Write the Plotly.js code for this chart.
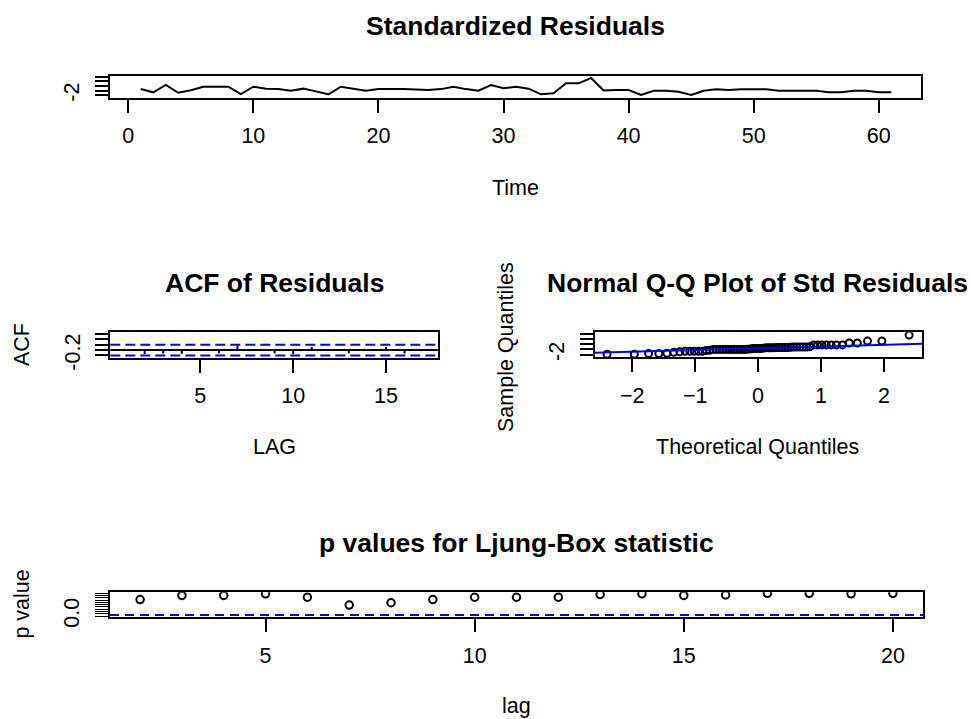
<!DOCTYPE html>
<html>
<head>
<meta charset="utf-8">
<script src="https://cdn.plot.ly/plotly-3.0.1.min.js"></script>
<style>
html,body{margin:0;padding:0;background:#ffffff;}
#chart{width:971px;height:719px;}
</style>
</head>
<body>
<div id="chart"></div>
<script>
// ---------------- DATA ----------------
const timeIdx = [1,2,3,4,5,6,7,8,9,10,11,12,13,14,15,16,17,18,19,20,
                 21,22,23,24,25,26,27,28,29,30,31,32,33,34,35,36,37,38,39,40,
                 41,42,43,44,45,46,47,48,49,50,51,52,53,54,55,56,57,58,59,60,61];
const stdRes = [-0.62,-1.34,0.24,-1.44,-0.90,-0.13,-0.13,-0.13,-1.72,-0.13,
                -0.55,-0.62,-0.99,-0.55,-1.14,-1.77,-0.13,-0.55,-0.99,-0.65,
                -0.55,-0.60,-0.75,-0.84,-0.65,-0.13,-0.65,-0.99,0.24,-0.47,
                -0.13,-0.55,-1.77,-1.55,0.60,0.60,1.75,-0.95,-0.84,-0.84,
                -1.92,-0.99,-0.99,-1.21,-1.92,-0.99,-0.69,-0.84,-0.69,-0.69,
                -0.69,-0.99,-0.99,-0.99,-0.99,-1.34,-1.34,-0.99,-0.99,-1.34,-1.34];

const acfLag = [1,2,3,4,5,6,7,8,9,10,11,12,13,14,15,16,17];
const acfVal = [0.01,-0.15,-0.13,-0.14,0.02,-0.12,0.18,0.01,-0.13,-0.15,0.12,-0.02,-0.12,0.01,0.12,-0.13,0.01];
const acfBand = [0.2, -0.2];

const lbLag  = [2,3,4,5,6,7,8,9,10,11,12,13,14,15,16,17,18,19,20];
const lbPval = [0.72,0.90,0.90,0.97,0.82,0.48,0.58,0.72,0.82,0.82,0.82,0.94,0.97,0.90,0.92,0.99,0.99,0.97,0.99];
const lbLevel = 0.05;

// tick labels
const timeTicks = [0,10,20,30,40,50,60];
const resTicks = [-2,-1,0,1,2];
const resTickText = ['-2','','','',''];
const acfXTicks = [5,10,15];
const acfYTicks = [-0.2,0,0.2,0.4,0.6];
const acfYTickText = ['-0.2','','','',''];
const qqXTicks = [-2,-1,0,1,2];
const pXTicks = [5,10,15,20];
const pYTicks = [0,0.1,0.2,0.3,0.4,0.5,0.6,0.7,0.8,0.9,1.0];
const pYTickText = ['0.0','','','','','','','','','',''];

// ---------------- helpers ----------------
function qnorm(p){ // Acklam inverse normal
  const a=[-3.969683028665376e+01,2.209460984245205e+02,-2.759285104469687e+02,1.383577518672690e+02,-3.066479806614716e+01,2.506628277459239e+00];
  const b=[-5.447609879822406e+01,1.615858368580409e+02,-1.556989798598866e+02,6.680131188771972e+01,-1.328068155288572e+01];
  const c=[-7.784894002430293e-03,-3.223964580411365e-01,-2.400758277161838e+00,-2.549732539343734e+00,4.374664141464968e+00,2.938163982698783e+00];
  const d=[7.784695709041462e-03,3.224671290700398e-01,2.445134137142996e+00,3.754408661907416e+00];
  const pl=0.02425, ph=1-pl; let q,r;
  if(p<pl){q=Math.sqrt(-2*Math.log(p));return (((((c[0]*q+c[1])*q+c[2])*q+c[3])*q+c[4])*q+c[5])/((((d[0]*q+d[1])*q+d[2])*q+d[3])*q+1);}
  if(p>ph){q=Math.sqrt(-2*Math.log(1-p));return -(((((c[0]*q+c[1])*q+c[2])*q+c[3])*q+c[4])*q+c[5])/((((d[0]*q+d[1])*q+d[2])*q+d[3])*q+1);}
  q=p-0.5;r=q*q;return (((((a[0]*r+a[1])*r+a[2])*r+a[3])*r+a[4])*r+a[5])*q/(((((b[0]*r+b[1])*r+b[2])*r+b[3])*r+b[4])*r+1);
}
function quantile7(sorted, p){
  const h=(sorted.length-1)*p, lo=Math.floor(h), hi=Math.ceil(h);
  return sorted[lo]+(h-lo)*(sorted[hi]-sorted[lo]);
}

// Q-Q from the residuals
const n = stdRes.length;
const qqY = stdRes.slice().sort((a,b)=>a-b);
const qqX = qqY.map((v,i)=>qnorm((i+1-0.5)/n));
const yq = [quantile7(qqY,0.25), quantile7(qqY,0.75)];
const xq = [qnorm(0.25), qnorm(0.75)];
const slope = (yq[1]-yq[0])/(xq[1]-xq[0]);
const icpt = yq[0]-slope*xq[0];

// ACF spikes (type "h")
const spikeX=[], spikeY=[];
acfLag.forEach((l,i)=>{spikeX.push(l,l,null);spikeY.push(0,acfVal[i],null);});

// ---------------- layout geometry ----------------
const W=971, H=719;
const dx=(a,b)=>[a/W,b/W];
const dy=(top,bot)=>[1-bot/H,1-top/H];
const FONT='Liberation Sans, Arial, sans-serif';

const xr1=[-1.5,63.4], yr1=[-2.5,2.28];
const xr2=[0.15,17.79], yr2=[-0.28,0.67];
const xr3=[-2.6,2.61], yr3=[-2.5,2.28];
const xr4=[1.28,20.72], yr4=[-0.04,1.04];

function ax(extra){
  return Object.assign({
    showline:true, mirror:true, linecolor:'#000', linewidth:2,
    ticks:'outside', ticklen:13, tickwidth:2, tickcolor:'#000',
    showgrid:false, zeroline:false, fixedrange:true,
    tickfont:{family:FONT,size:21.5,color:'#000'},
    title:{text:''}
  }, extra);
}

const qqLineX = xr3.slice();
const qqLineY = qqLineX.map(x=>icpt+slope*x);

const traces = [
  {x:timeIdx, y:stdRes, xaxis:'x', yaxis:'y', type:'scatter', mode:'lines',
   line:{color:'#000',width:2}, hoverinfo:'skip'},
  {x:spikeX, y:spikeY, xaxis:'x2', yaxis:'y2', type:'scatter', mode:'lines',
   line:{color:'#000',width:2}, hoverinfo:'skip'},
  {x:qqX, y:qqY, xaxis:'x3', yaxis:'y3', type:'scatter', mode:'markers',
   marker:{symbol:'circle-open',size:7,color:'#000',line:{width:2,color:'#000'}}, hoverinfo:'skip'},
  {x:qqLineX, y:qqLineY, xaxis:'x3', yaxis:'y3', type:'scatter', mode:'lines',
   line:{color:'#0000FF',width:2}, hoverinfo:'skip'},
  {x:lbLag, y:lbPval, xaxis:'x4', yaxis:'y4', type:'scatter', mode:'markers',
   marker:{symbol:'circle-open',size:7.5,color:'#000',line:{width:2,color:'#000'}}, hoverinfo:'skip'}
];

const shapes = [
  {type:'line', xref:'x2 domain', yref:'y2', x0:0, x1:1, y0:0, y1:0, line:{color:'#000',width:2}},
  {type:'line', xref:'x2 domain', yref:'y2', x0:0, x1:1, y0:acfBand[0], y1:acfBand[0], line:{color:'#0000FF',width:2,dash:'10px,5px'}},
  {type:'line', xref:'x2 domain', yref:'y2', x0:0, x1:1, y0:acfBand[1], y1:acfBand[1], line:{color:'#0000FF',width:2,dash:'10px,5px'}},
  {type:'line', xref:'x4 domain', yref:'y4', x0:0, x1:1, y0:lbLevel, y1:lbLevel, line:{color:'#0000FF',width:2,dash:'9px,6px'}}
];

function txt(text,xpx,ypx,size,bold,angle){
  return {text: bold?('<b>'+text+'</b>'):text, xref:'paper', yref:'paper',
    x:xpx/W, y:1-ypx/H, xanchor:'center', yanchor:'middle', showarrow:false,
    textangle: angle||0, font:{family:FONT,size:size,color:'#000'}};
}

const annotations = [
  txt('Standardized Residuals',515.4,26,26.5,true),
  txt('Time',515.4,188,21.5,false),
  txt('ACF of Residuals',274,283,26.5,true),
  txt('LAG',274,447,21.5,false),
  txt('ACF',22,345,21.5,false,-90),
  txt('Normal Q-Q Plot of Std Residuals',757,283,26.5,true),
  txt('Theoretical Quantiles',757,447,21.5,false),
  txt('Sample Quantiles',506,347,21.5,false,-90),
  txt('p values for Ljung-Box statistic',516.5,543,26.5,true),
  txt('lag',516.5,706,21.5,false),
  txt('p value',22,604.6,21.5,false,-90)
];

const layout = {
  width:W, height:H, margin:{l:0,r:0,t:0,b:0},
  paper_bgcolor:'#fff', plot_bgcolor:'#fff', showlegend:false,
  font:{family:FONT,color:'#000'},
  xaxis: ax({domain:dx(109.5,921.3), range:xr1, tickvals:timeTicks, anchor:'y', ticklabelstandoff:4}),
  yaxis: ax({domain:dy(75.5,97.7), range:yr1, tickvals:resTicks, ticktext:resTickText, tickangle:-90, anchor:'x', ticklabelstandoff:7}),
  xaxis2: ax({domain:dx(110.3,437.8), range:xr2, tickvals:acfXTicks, anchor:'y2', ticklabelstandoff:5}),
  yaxis2: ax({domain:dy(332.3,357.5), range:yr2, tickvals:acfYTicks, ticktext:acfYTickText, tickangle:-90, anchor:'x2', ticklabelstandoff:7}),
  xaxis3: ax({domain:dx(594.5,922.3), range:xr3, tickvals:qqXTicks, anchor:'y3', ticklabelstandoff:5}),
  yaxis3: ax({domain:dy(332.3,357.3), range:yr3, tickvals:resTicks, ticktext:resTickText, tickangle:-90, anchor:'x3', ticklabelstandoff:7}),
  xaxis4: ax({domain:dx(110,923), range:xr4, tickvals:pXTicks, anchor:'y4', ticklabelstandoff:5}),
  yaxis4: ax({domain:dy(592.2,617), range:yr4, tickvals:pYTicks, ticktext:pYTickText, tickangle:-90, tickwidth:1, anchor:'x4', ticklabelstandoff:7}),
  shapes: shapes,
  annotations: annotations
};

Plotly.newPlot('chart', traces, layout, {displayModeBar:false, staticPlot:true});
</script>
</body>
</html>
